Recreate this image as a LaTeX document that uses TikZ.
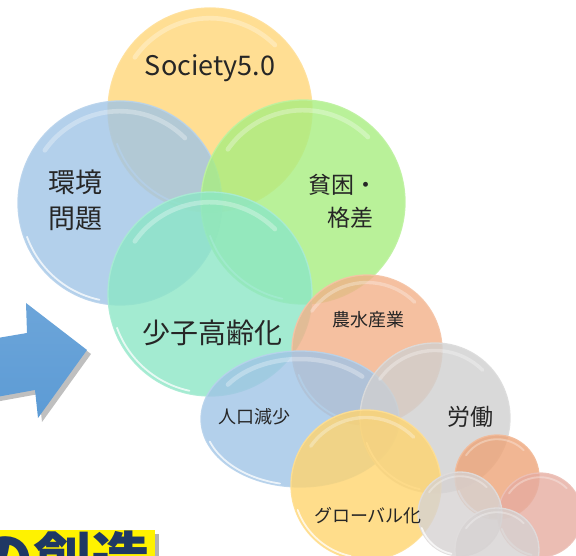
\documentclass[tikz,border=0pt]{standalone}
\usepackage{fontspec}
\newfontfamily\jp{Noto Sans CJK JP}
\usetikzlibrary{shapes.geometric,calc}
\definecolor{cSoc}{RGB}{255,214,120}
\definecolor{cEnv}{RGB}{160,196,230}
\definecolor{cPov}{RGB}{168,238,128}
\definecolor{cAge}{RGB}{140,230,198}
\definecolor{cAgr}{RGB}{242,176,136}
\definecolor{cPop}{RGB}{160,196,230}
\definecolor{cLab}{RGB}{208,208,208}
\definecolor{cGlo}{RGB}{255,212,110}
\definecolor{cOr}{RGB}{238,164,120}
\definecolor{cPk}{RGB}{230,172,160}
\definecolor{cGy}{RGB}{214,210,210}
\definecolor{cArrow}{RGB}{92,155,213}
\definecolor{cNavy}{RGB}{31,56,100}
\tikzset{
  bubfill/.style={inner sep=0pt, fill=#1, fill opacity=0.8, draw=#1!75!white, draw opacity=0.9, line width=1.3pt},
  lbl/.style={text=black!85, inner sep=0pt, font=\jp, align=center},
  gloss/.style={white, opacity=0.3, line cap=round},
  rim/.style={white, opacity=0.75, line width=1.8pt, line cap=round}
}
\newcommand\mybubble[5]{%
  \node[circle, bubfill=#5, minimum size=2*#4pt] (#1) at (#2,#3) {};
  \begin{scope}[shift={(#2,#3)}]
    \draw[gloss, line width=0.045*#4pt] (145:0.9*#4pt) arc[start angle=145, end angle=45, radius=0.9*#4pt];
    \draw[rim] (200:0.97*#4pt) arc[start angle=200, end angle=258, radius=0.97*#4pt];
  \end{scope}}
\begin{document}
\begin{tikzpicture}[x=1pt,y=1pt]
\useasboundingbox (0,0) rectangle (576,556);
\clip (0,0) rectangle (576,556);
% arrow
\fill[black, opacity=0.25] ($(-20,215)+(4,-4)$) -- ($(27,223)+(4,-4)$) -- ($(26,253)+(4,-4)$) -- ($(87,206)+(4,-4)$) -- ($(38,138)+(4,-4)$) -- ($(35,166)+(4,-4)$) -- ($(-20,156)+(4,-4)$) -- cycle;
\shade[top color=cArrow!90!white, bottom color=cArrow] (-20,215) -- (27,223) -- (26,253) -- (87,206) -- (38,138) -- (35,166) -- (-20,156) -- cycle;
% bubbles
\mybubble{soc}{210}{446}{102}{cSoc}
\mybubble{env}{120}{353}{102}{cEnv}
\mybubble{pov}{303}{354}{102}{cPov}
\mybubble{age}{210}{262}{102}{cAge}
\mybubble{agr}{367}{206}{75}{cAgr}
\node[ellipse, bubfill=cPop, minimum width=198pt, minimum height=136pt] (pop) at (300,137) {};
\draw[gloss, line width=4.5pt] ($(pop.center)+(145:88 and 60)$) arc[start angle=145, end angle=45, x radius=88, y radius=60];
\draw[rim] ($(pop.center)+(200:96 and 66)$) arc[start angle=200, end angle=258, x radius=96, y radius=66];
\mybubble{lab}{435}{138}{75}{cLab}
\mybubble{glo}{366}{71}{75}{cGlo}
\mybubble{s1}{497}{79}{42}{cOr}
\mybubble{s3}{540}{41}{42}{cPk}
\mybubble{s2}{460}{42}{42}{cGy}
\mybubble{s4}{497}{6}{42}{cGy}
% labels
\node[lbl, font=\jp\fontsize{27}{30}\selectfont] (tsoc) at (210,488) {Society5.0};
\node[lbl, font=\jp\fontsize{27}{36}\selectfont] (tenv) at (75,356) {環境\\問題};
\node[lbl, font=\jp\fontsize{23}{30}\selectfont] (tpov1) at (343,371) {貧困・};
\node[lbl, font=\jp\fontsize{23}{30}\selectfont] (tpov2) at (350,338) {格差};
\node[lbl, font=\jp\fontsize{28}{30}\selectfont] (tage) at (212,223) {少子高齢化};
\node[lbl, font=\jp\fontsize{18}{20}\selectfont] (tagr) at (368,236) {農水産業};
\node[lbl, font=\jp\fontsize{23}{25}\selectfont] (tlab) at (470,139) {労働};
\node[lbl, font=\jp\fontsize{18}{20}\selectfont] (tpop) at (254,139) {人口減少};
\node[lbl, font=\jp\fontsize{18}{20}\selectfont] (tglo) at (368,40) {グローバル化};
% bottom-left box
\fill[black, opacity=0.3] (4,-4) rectangle (159,22);
\fill[yellow] (0,0) rectangle (155,26);
\begin{scope}
\clip (0,0) rectangle (155,26);
\node[anchor=north east, inner sep=0pt, text=cNavy, font=\jp\bfseries\fontsize{58}{60}\selectfont] (tcre) at (150,25) {の創造};
\end{scope}
\end{tikzpicture}
\end{document}
